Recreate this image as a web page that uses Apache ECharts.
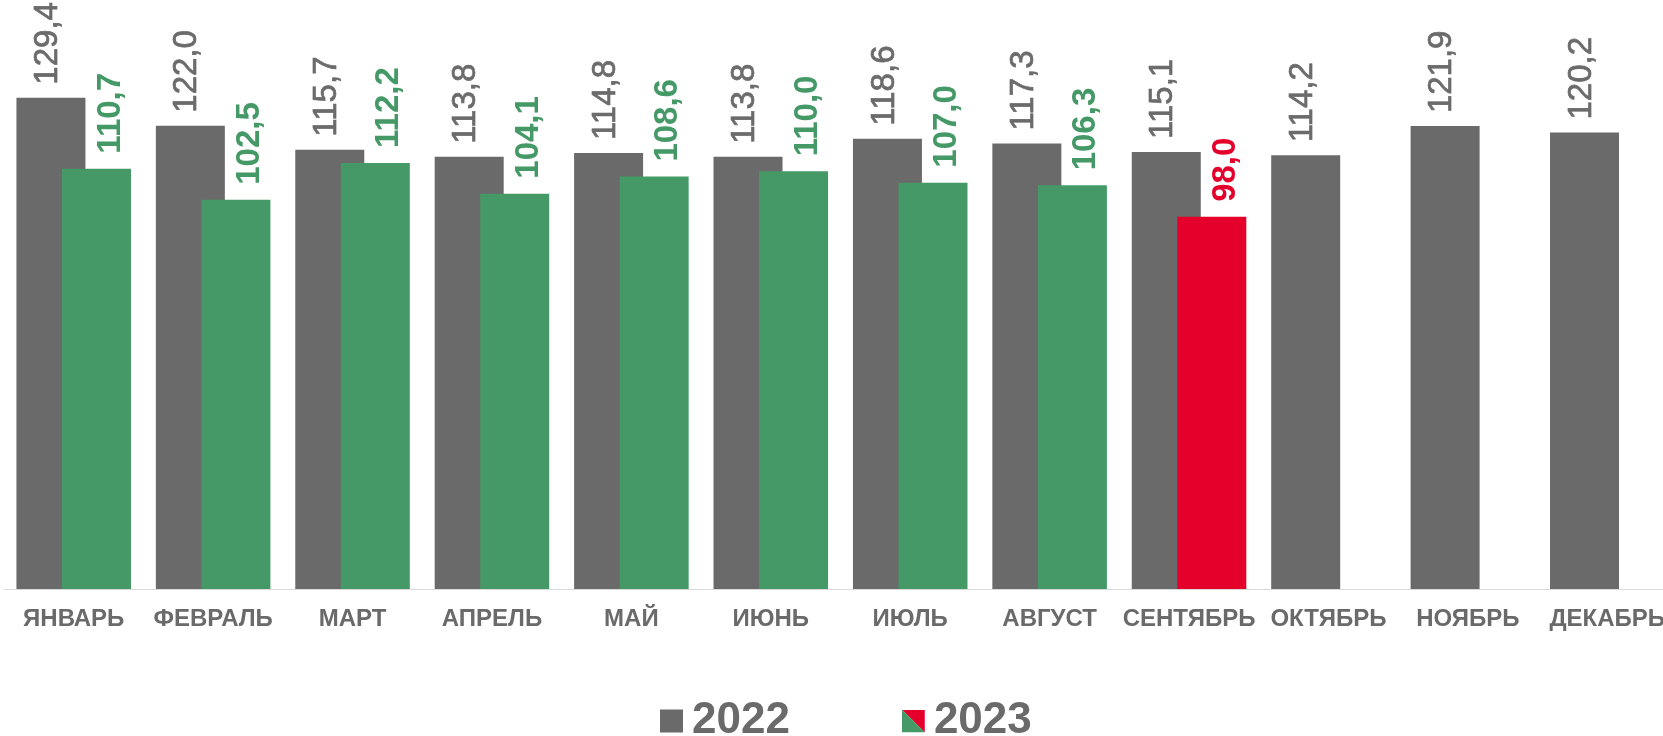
<!DOCTYPE html>
<html>
<head>
<meta charset="utf-8">
<title>2022 / 2023</title>
<script src="https://cdn.jsdelivr.net/npm/echarts@6/dist/echarts.min.js"></script>
<style>
  html, body { margin: 0; padding: 0; background: #fff; }
  #chart { width: 1663px; height: 736px; }
</style>
</head>
<body>
<div id="chart"></div>
<script>
const months = ["ЯНВАРЬ", "ФЕВРАЛЬ", "МАРТ", "АПРЕЛЬ", "МАЙ", "ИЮНЬ", "ИЮЛЬ", "АВГУСТ", "СЕНТЯБРЬ", "ОКТЯБРЬ", "НОЯБРЬ", "ДЕКАБРЬ"];
const values2022 = [129.4, 122.0, 115.7, 113.8, 114.8, 113.8, 118.6, 117.3, 115.1, 114.2, 121.9, 120.2];
const values2023 = [110.7, 102.5, 112.2, 104.1, 108.6, 110.0, 107.0, 106.3, 98.0, null, null, null];
const seriesNames = ["2022", "2023"];
const highlightMonth = "СЕНТЯБРЬ"; // последний месяц - красным

const GRAY = "#6a6a6a";
const GREEN = "#449966";
const RED = "#e4002b";
const FONT = "'Liberation Sans', Arial, sans-serif";

// иконка легенды 2023: зелёный/красный треугольники
const splitIcon = "image://data:image/svg+xml;charset=utf-8," + encodeURIComponent(
  "<svg xmlns='http://www.w3.org/2000/svg' width='23' height='23'>" +
  "<polygon points='0,0 23,0 23,23' fill='" + RED + "'/>" +
  "<polygon points='0,0 0,23 23,23' fill='" + GREEN + "'/></svg>"
);

const fmt = p => (p.value == null ? "" : p.value.toFixed(1).replace(".", ","));

const data2023 = values2023.map((v, i) =>
  months[i] === highlightMonth
    ? { value: v, itemStyle: { color: RED }, label: { color: RED } }
    : v
);

const chartObj = echarts.init(document.getElementById("chart"));
const option = {
  animation: false,
  textStyle: { fontFamily: FONT },
  // подписи декабря уходят за край, как в исходнике
  grid: { left: 4, right: -14, top: 19.4, bottom: 147, outerBoundsMode: "none", containLabel: false },
  legend: {
    data: [
      { name: seriesNames[0], icon: "rect" },
      { name: seriesNames[1], icon: splitIcon }
    ],
    left: 660,
    top: 699,
    padding: 0,
    itemWidth: 23,
    itemHeight: 23,
    itemGap: 112,
    textStyle: {
      fontFamily: FONT,
      fontSize: 44,
      fontWeight: "bold",
      color: GRAY,
      padding: [0, 0, 0, 4]
    }
  },
  xAxis: {
    type: "category",
    data: months,
    axisLine: { lineStyle: { color: "#d9d9d9", width: 1 } },
    axisTick: { show: false },
    axisLabel: {
      interval: 0,
      margin: 18,
      fontFamily: FONT,
      fontSize: 24,
      fontWeight: "bold",
      color: GRAY
    }
  },
  yAxis: {
    type: "value",
    min: 0,
    max: 150,
    show: false,
    splitLine: { show: false }
  },
  series: [
    {
      name: seriesNames[0],
      type: "bar",
      data: values2022,
      barWidth: 69,
      barGap: "-34%",
      itemStyle: { color: GRAY },
      label: {
        show: true,
        position: "top",
        distance: 13,
        rotate: 90,
        align: "left",
        verticalAlign: "middle",
        offset: [0, -3],
        formatter: fmt,
        fontFamily: FONT,
        fontSize: 33,
        color: "#6b6b6b",
        textBorderColor: "#6b6b6b",
        textBorderWidth: 0.7
      }
    },
    {
      name: seriesNames[1],
      type: "bar",
      data: data2023,
      barWidth: 69,
      itemStyle: { color: GREEN },
      label: {
        show: true,
        position: "top",
        distance: 15,
        rotate: 90,
        align: "left",
        verticalAlign: "middle",
        offset: [0, 14],
        formatter: fmt,
        fontFamily: FONT,
        fontSize: 33,
        fontWeight: "bold",
        color: GREEN
      }
    }
  ]
};
chartObj.setOption(option);
window.addEventListener("resize", function() {
  chartObj.resize();
});
</script>
</body>
</html>
